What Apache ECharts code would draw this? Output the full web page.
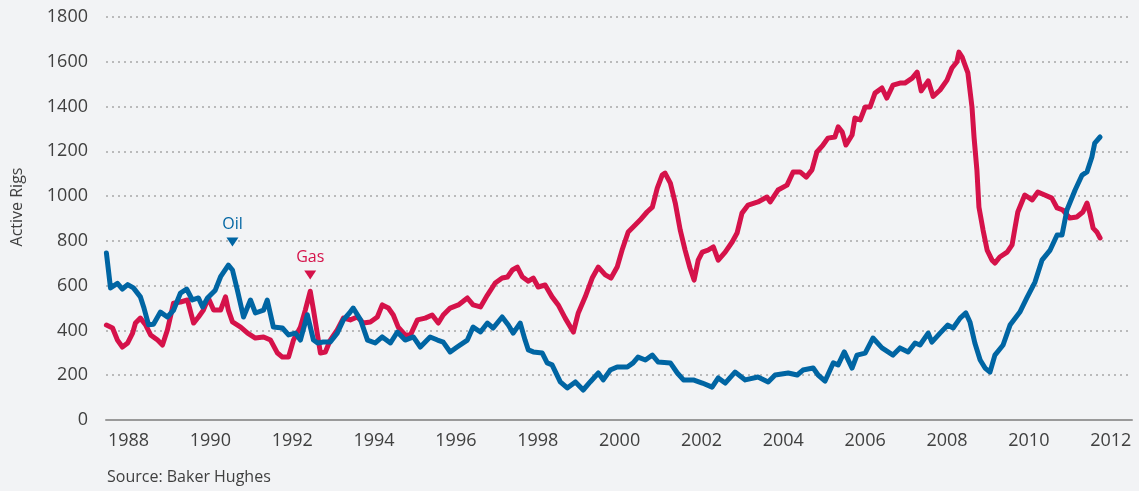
<!DOCTYPE html>
<html>
<head>
<meta charset="utf-8">
<script src="https://cdn.jsdelivr.net/npm/echarts@6/dist/echarts.min.js"></script>
<style>
html,body{margin:0;padding:0;background:#f2f3f5;}
#chart{width:1139px;height:491px;}
</style>
</head>
<body>
<div id="chart"></div>
<script>
// Data (year, active rigs)
const oilYears = [1987.46,1987.56,1987.73,1987.85,1987.98,1988.12,1988.29,1988.37,1988.49,1988.61,1988.78,1988.95,1989.10,1989.27,1989.42,1989.56,1989.71,1989.81,1989.93,1990.12,1990.25,1990.44,1990.54,1990.66,1990.81,1990.98,1991.10,1991.30,1991.39,1991.54,1991.76,1991.91,1992.08,1992.20,1992.37,1992.52,1992.62,1992.76,1992.93,1993.10,1993.25,1993.40,1993.49,1993.67,1993.84,1994.03,1994.20,1994.40,1994.57,1994.76,1994.96,1995.13,1995.37,1995.55,1995.69,1995.86,1996.03,1996.28,1996.42,1996.60,1996.77,1996.91,1997.13,1997.28,1997.40,1997.57,1997.69,1997.77,1997.89,1998.11,1998.23,1998.35,1998.55,1998.72,1998.92,1999.11,1999.28,1999.48,1999.60,1999.77,1999.94,2000.19,2000.33,2000.45,2000.63,2000.80,2000.94,2001.24,2001.41,2001.56,2001.80,2002.02,2002.26,2002.41,2002.58,2002.82,2003.07,2003.38,2003.63,2003.80,2004.12,2004.34,2004.48,2004.73,2004.85,2005.02,2005.22,2005.34,2005.49,2005.68,2005.80,2006.00,2006.19,2006.41,2006.68,2006.85,2007.05,2007.22,2007.34,2007.54,2007.63,2007.83,2008.02,2008.15,2008.32,2008.46,2008.56,2008.68,2008.81,2008.93,2009.05,2009.17,2009.37,2009.54,2009.78,2009.95,2010.15,2010.32,2010.52,2010.69,2010.81,2010.93,2011.13,2011.30,2011.42,2011.54,2011.61,2011.74];
const oilRigs = [746,590,610,585,605,590,550,505,425,428,482,460,490,567,585,536,545,505,545,580,640,692,670,580,460,536,478,491,536,415,411,380,388,357,470,357,344,348,348,388,447,478,500,447,357,344,371,344,393,357,371,326,371,357,348,304,326,357,415,393,433,411,460,424,388,433,357,313,304,299,255,246,170,143,170,134,170,210,179,223,237,237,255,281,268,290,259,255,210,179,179,165,147,188,165,214,179,192,170,201,210,201,223,232,201,174,255,246,304,232,290,299,366,322,290,322,304,344,335,388,348,388,424,411,455,478,438,344,268,232,214,290,335,424,482,545,616,714,759,826,826,938,1027,1094,1108,1175,1237,1264];

const gasYears = [1987.46,1987.61,1987.73,1987.85,1987.98,1988.10,1988.17,1988.29,1988.42,1988.54,1988.71,1988.83,1988.95,1989.10,1989.27,1989.44,1989.59,1989.71,1989.83,1989.95,1990.08,1990.25,1990.37,1990.44,1990.54,1990.74,1990.91,1991.10,1991.30,1991.47,1991.64,1991.76,1991.91,1992.03,1992.20,1992.32,1992.44,1992.52,1992.69,1992.81,1992.93,1993.10,1993.25,1993.42,1993.59,1993.74,1993.91,1994.08,1994.20,1994.35,1994.47,1994.59,1994.76,1994.89,1995.06,1995.25,1995.42,1995.57,1995.69,1995.86,1996.06,1996.28,1996.42,1996.60,1996.77,1996.96,1997.13,1997.26,1997.38,1997.50,1997.62,1997.77,1997.89,1998.01,1998.18,1998.35,1998.50,1998.67,1998.87,1998.99,1999.16,1999.33,1999.48,1999.65,1999.79,1999.94,2000.06,2000.21,2000.38,2000.50,2000.67,2000.80,2000.92,2001.04,2001.11,2001.24,2001.36,2001.48,2001.60,2001.72,2001.82,2001.92,2002.02,2002.16,2002.29,2002.41,2002.58,2002.75,2002.87,2002.99,2003.14,2003.38,2003.60,2003.68,2003.87,2004.09,2004.24,2004.41,2004.56,2004.70,2004.82,2004.97,2005.09,2005.26,2005.34,2005.44,2005.53,2005.68,2005.75,2005.88,2006.00,2006.12,2006.24,2006.41,2006.53,2006.68,2006.85,2006.97,2007.15,2007.27,2007.37,2007.54,2007.66,2007.83,2008.00,2008.12,2008.24,2008.29,2008.37,2008.44,2008.51,2008.61,2008.66,2008.73,2008.78,2008.88,2008.98,2009.10,2009.17,2009.29,2009.47,2009.59,2009.66,2009.73,2009.90,2010.08,2010.22,2010.39,2010.56,2010.69,2010.83,2011.00,2011.17,2011.32,2011.42,2011.49,2011.57,2011.66,2011.74];
const gasRigs = [424,411,357,326,344,388,433,455,424,380,357,335,402,522,527,536,433,460,491,545,491,491,550,491,438,415,388,366,371,357,299,281,281,357,415,491,575,491,299,304,357,402,455,447,460,433,438,460,514,500,469,415,380,380,447,455,469,433,469,500,514,545,514,505,558,612,634,639,670,683,640,620,634,594,603,550,514,455,393,478,550,634,683,648,634,683,759,840,871,893,929,951,1036,1094,1103,1058,969,849,759,679,625,714,750,759,773,714,750,795,835,924,960,974,996,974,1027,1049,1108,1108,1085,1117,1197,1228,1259,1264,1309,1286,1228,1273,1349,1340,1398,1398,1460,1483,1438,1496,1505,1505,1527,1554,1470,1515,1445,1474,1518,1572,1599,1643,1621,1585,1550,1398,1264,1117,951,849,759,714,701,728,750,782,857,929,1005,983,1018,1005,991,947,938,902,907,929,969,924,857,840,813];

const yearTicks = [1988,1990,1992,1994,1996,1998,2000,2002,2004,2006,2008,2010,2012];
const oilMarker = [1990.54, 795];
const gasMarker = [1992.44, 648];

const textColor = '#404040';
const fontFamily = '"Open Sans", "Noto Sans", sans-serif';
const oilColor = '#0065a3';
const gasColor = '#d5124a';

const chart = echarts.init(document.getElementById('chart'), null, {renderer: 'canvas'});
chart.setOption({
  backgroundColor: '#f2f3f5',
  animation: false,
  textStyle: {fontFamily: fontFamily},
  grid: {left: 106, right: 7, top: 17, bottom: 71, containLabel: false},
  xAxis: {
    type: 'value',
    min: 1987.45,
    max: 2012.52,
    axisLine: {show: true, lineStyle: {color: '#9a9a9a', width: 2}},
    axisTick: {show: false},
    splitLine: {show: false},
    axisLabel: {
      customValues: yearTicks,
      formatter: v => String(v),
      color: textColor, fontSize: 18, margin: 12, fontFamily: fontFamily
    }
  },
  yAxis: {
    type: 'value',
    min: 0, max: 1800, interval: 200,
    name: 'Active Rigs',
    nameLocation: 'middle',
    nameGap: 81,
    nameRotate: 90,
    nameTextStyle: {color: textColor, fontSize: 16, fontFamily: fontFamily, padding: [0, 0, 0, 23]},
    axisLine: {show: false},
    axisTick: {show: false},
    axisLabel: {formatter: v => String(v), color: textColor, fontSize: 18, margin: 18, fontFamily: fontFamily},
    splitLine: {show: true, lineStyle: {color: '#a8a8a8', type: [2, 4], width: 1.5}}
  },
  series: [
    {
      name: 'Gas', type: 'line', showSymbol: false, smooth: false,
      data: gasYears.map((y, i) => [y, gasRigs[i]]),
      lineStyle: {color: gasColor, width: 5, join: 'round', cap: 'round'},
      itemStyle: {color: gasColor},
      markPoint: {
        silent: true,
        symbol: 'triangle', symbolSize: [12, 9], symbolRotate: 180,
        itemStyle: {color: gasColor},
        label: {show: true, position: 'top', distance: 5, formatter: 'Gas', color: gasColor, fontSize: 16, fontFamily: fontFamily},
        data: [{coord: gasMarker}]
      }
    },
    {
      name: 'Oil', type: 'line', showSymbol: false, smooth: false,
      data: oilYears.map((y, i) => [y, oilRigs[i]]),
      lineStyle: {color: oilColor, width: 5, join: 'round', cap: 'round'},
      itemStyle: {color: oilColor},
      markPoint: {
        silent: true,
        symbol: 'triangle', symbolSize: [12, 9], symbolRotate: 180,
        itemStyle: {color: oilColor},
        label: {show: true, position: 'top', distance: 5, formatter: 'Oil', color: oilColor, fontSize: 16, fontFamily: fontFamily},
        data: [{coord: oilMarker}]
      }
    }
  ],
  graphic: [{
    type: 'text', left: 107, top: 469,
    style: {text: 'Source: Baker Hughes', fill: textColor, fontSize: 16, fontFamily: fontFamily}
  }]
});
</script>
</body>
</html>
